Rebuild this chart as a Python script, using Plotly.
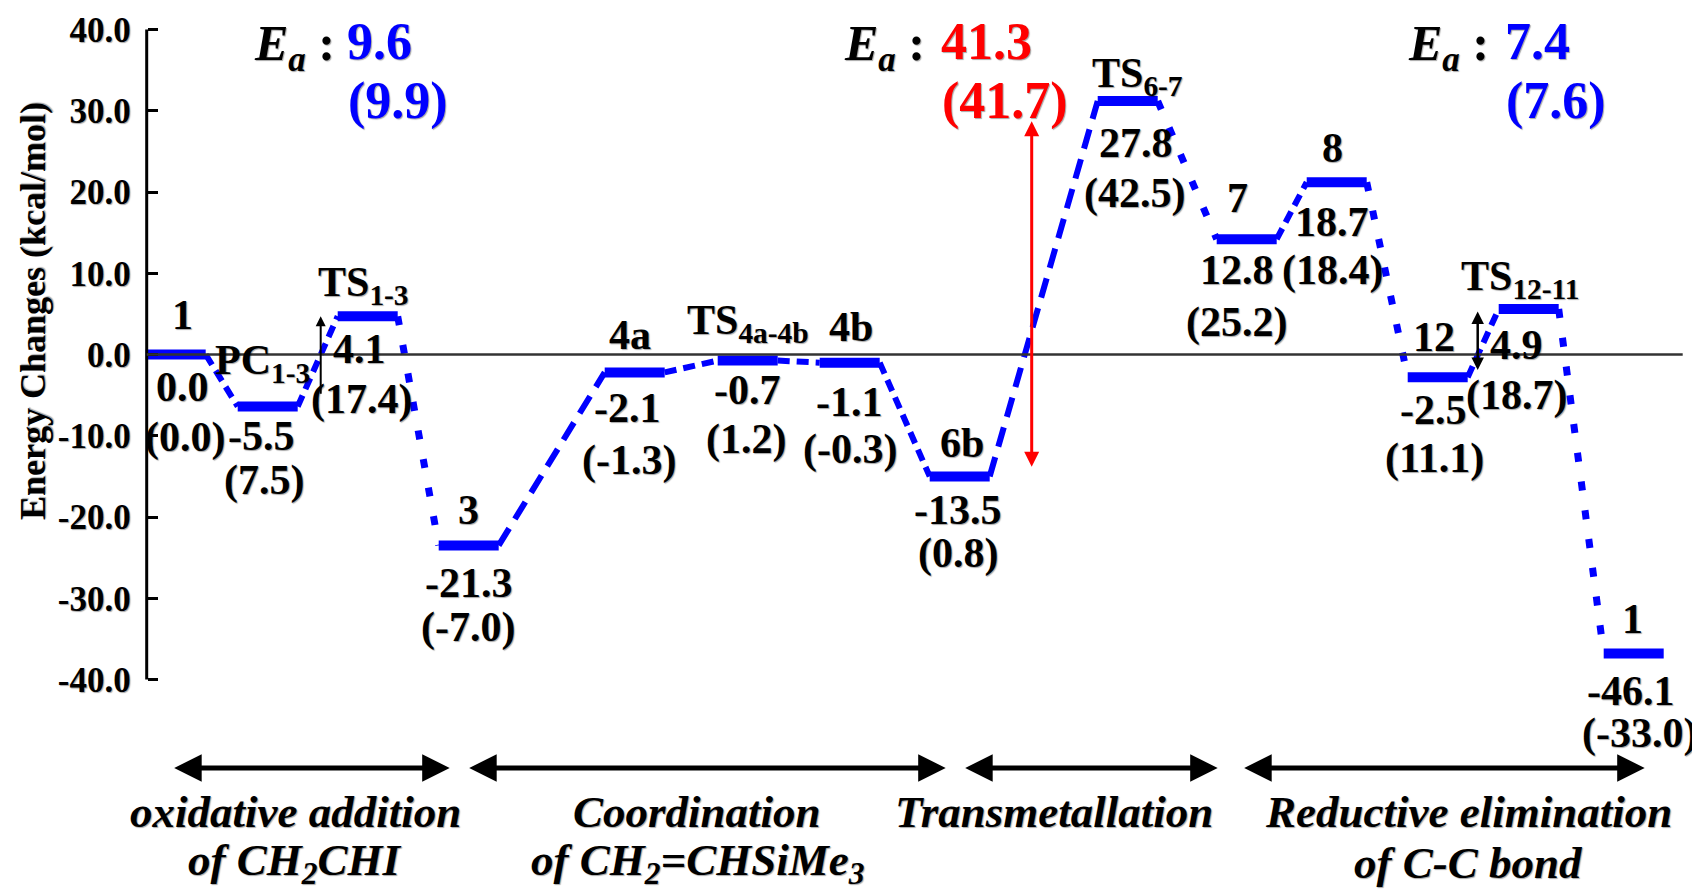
import plotly.graph_objects as go

# ---------------- data ----------------
state_names = ["1", "PC<sub>1-3</sub>", "TS<sub>1-3</sub>", "3", "4a", "TS<sub>4a-4b</sub>", "4b",
               "6b", "TS<sub>6-7</sub>", "7", "8", "12", "TS<sub>12-11</sub>", "1"]
reaction_coord = [0.29, 1.21, 2.21, 3.22, 4.88, 6.01, 7.03, 8.13, 9.81, 11.00, 11.90, 12.91, 13.82, 14.87]
drawn_level = [0.0, -6.4, 4.7, -23.5, -2.2, -0.75, -1.0, -15.0, 31.2, 14.2, 21.2, -2.8, 5.6, -36.8]
energy_text = ["0.0", "-5.5", "4.1", "-21.3", "-2.1", "-0.7", "-1.1", "-13.5", "27.8", "12.8",
               "18.7", "-2.5", "4.9", "-46.1"]
paren_text = ["(0.0)", "(7.5)", "(17.4)", "(-7.0)", "(-1.3)", "(1.2)", "(-0.3)", "(0.8)", "(42.5)",
              "(25.2)", "(18.4)", "(11.1)", "(18.7)", "(-33.0)"]
connector_kind = ["dash", "dash", "dot", "long", "dash", "dash", "dash", "long", "dot", "dash",
                  "dot", "dash", "dot"]

y_ticks = [-40, -30, -20, -10, 0, 10, 20, 30, 40]
y_tick_text = ["-40.0", "-30.0", "-20.0", "-10.0", "0.0", "10.0", "20.0", "30.0", "40.0"]

ea_main = ["9.6", "41.3", "7.4"]
ea_paren = ["(9.9)", "(41.7)", "(7.6)"]
ea_color = ["#0000FF", "#FF0000", "#0000FF"]

stage_start = [0.26, 3.21, 8.17, 10.96]
stage_end = [3.03, 7.99, 10.71, 14.98]
stage_line1 = ["oxidative addition", "Coordination", "Transmetallation", "Reductive elimination"]
stage_line2 = ["of CH<sub>2</sub>CHI", "of CH<sub>2</sub>=CHSiMe<sub>3</sub>", "", "of C-C bond"]

# ---------------- layout helpers ----------------
OFF = 8                      # page body margin of the html page
W, H = 1700 - OFF, 896 - OFF
AX_PX = 146.7 - OFF          # figure pixel x of the y-axis
PX_PER_X = 100.0
ZERO_PY = 354.5 - OFF        # figure pixel y of energy 0
PX_PER_Y = 8.125
x_range = [-AX_PX / PX_PER_X, (W - AX_PX) / PX_PER_X]
y_range = [-(H - ZERO_PY) / PX_PER_Y, ZERO_PY / PX_PER_Y]


def px(x):   # reference page pixel -> paper fraction
    return (x - OFF) / W


def py(y):
    return 1 - (y - OFF) / H


FONT = "Liberation Serif"
SHADOW = "1px 1px 1px rgba(0,0,0,0.35)"
BLUE = "#0000FF"
half_w = 0.3

fig = go.Figure()

# bars
bx, by = [], []
for c, l in zip(reaction_coord, drawn_level):
    bx += [c - half_w, c + half_w, None]
    by += [l, l, None]
fig.add_trace(go.Scatter(x=bx, y=by, mode="lines", line=dict(color=BLUE, width=10),
                         hoverinfo="skip", showlegend=False))

dash_map = {"dash": ("12px,7px", 6), "long": ("20px,11px", 6), "dot": ("9px,20px", 7)}
for i, kind in enumerate(connector_kind):
    d, w = dash_map[kind]
    fig.add_trace(go.Scatter(
        x=[reaction_coord[i] + half_w, reaction_coord[i + 1] - half_w],
        y=[drawn_level[i], drawn_level[i + 1]],
        mode="lines", line=dict(color=BLUE, width=w, dash=d),
        hoverinfo="skip", showlegend=False))

ann = []
lab_font = dict(family=FONT, size=42, color="black", weight="bold", shadow=SHADOW)

# name labels (pixel offsets from bar centre)
name_dx = [7, -5, -4, 0, -5, 0, 1, 2, 10, -9, -4, -4, -9, -1]
name_dy = [40, 44, 31, 35, 37, 38, 36, 33, 25, 41, 34, 40, 30, 35]
for i in range(len(state_names)):
    ann.append(dict(x=reaction_coord[i], y=drawn_level[i], text=state_names[i], showarrow=False,
                    xshift=name_dx[i], yshift=name_dy[i], font=lab_font,
                    xanchor="center", yanchor="middle"))

en_dx = [7, -6, -8, 0, -7, 0, 0, -2, 8, -10, -5, -4, -12, -3]
en_dy = [32, 29, 33, 38, 36, 29, 39, 34, 42, 31, 40, 33, 36, 37]
par_dx = [9, -4, -6, -1, -6, -2, 0, -2, 7, -10, -4, -3, -12, 6]
par_dy = [83, 74, 83, 82, 88, 79, 87, 77, 92, 83, 88, 81, 86, 80]
for i in range(len(state_names)):
    ann.append(dict(x=reaction_coord[i], y=drawn_level[i], text=energy_text[i], showarrow=False,
                    xshift=en_dx[i], yshift=-en_dy[i], font=lab_font,
                    xanchor="center", yanchor="middle"))
    ann.append(dict(x=reaction_coord[i], y=drawn_level[i], text=paren_text[i], showarrow=False,
                    xshift=par_dx[i], yshift=-par_dy[i], font=lab_font,
                    xanchor="center", yanchor="middle"))


# barrier arrows
def arrow(x0, y0, x1, y1, color, width, both, head=2, size=1.0):
    return dict(x=x1, y=y1, ax=x0, ay=y0, xref="x", yref="y", axref="x", ayref="y", text="",
                showarrow=True, arrowhead=head, startarrowhead=head, arrowsize=size,
                startarrowsize=size, arrowwidth=width, arrowcolor=color,
                arrowside="end+start" if both else "end")


ann.append(arrow(1.74, -5.0, 1.74, drawn_level[2], "black", 2, False))
ann.append(arrow(13.31, -2.1, 13.31, 5.3, "black", 2.5, True))
ann.append(arrow(8.85, -14.0, 8.85, 28.7, "#FF0000", 3, True))

# Ea labels
ea_label_px = [337, 927, 1491]
ea_num_px = [345, 939, 1503]
ea_font_k = dict(family=FONT, size=50, color="black", weight="bold", shadow=SHADOW)
for i in range(3):
    ann.append(dict(xref="paper", yref="paper", x=px(ea_label_px[i]), y=py(47),
                    text="<i>E</i><sub><i>a</i></sub> :", showarrow=False,
                    xanchor="right", yanchor="middle", font=ea_font_k))
    ann.append(dict(xref="paper", yref="paper", x=px(ea_num_px[i]), y=py(41),
                    text=ea_main[i], showarrow=False, xanchor="left", yanchor="middle",
                    font=dict(family=FONT, size=52, color=ea_color[i], weight="bold", shadow=SHADOW)))
    ann.append(dict(xref="paper", yref="paper", x=px(ea_num_px[i] + 1), y=py(101),
                    text=ea_paren[i], showarrow=False, xanchor="left", yanchor="middle",
                    font=dict(family=FONT, size=52, color=ea_color[i], weight="bold", shadow=SHADOW)))

# stage arrows and text
stage_y = (354.5 - 768) / PX_PER_Y
st_font = dict(family=FONT, size=45, color="black", weight="bold", style="italic", shadow=SHADOW)
for i in range(4):
    ann.append(arrow(stage_start[i], stage_y, stage_end[i], stage_y, "black", 5, True, head=2, size=1.1))
st_center_px = [295, 697, 1054, 1468]
for i in range(4):
    ann.append(dict(xref="paper", yref="paper", x=px(st_center_px[i]), y=py(812),
                    text=stage_line1[i], showarrow=False, font=st_font,
                    xanchor="center", yanchor="middle"))
    if stage_line2[i]:
        ann.append(dict(xref="paper", yref="paper", x=px(st_center_px[i]), y=py(863),
                        text=stage_line2[i], showarrow=False, font=st_font,
                        xanchor="center", yanchor="middle"))

# axis title
ann.append(dict(xref="paper", yref="paper", x=px(33), y=py(311),
                text="Energy Changes (kcal/mol)", showarrow=False, textangle=-90,
                xanchor="center", yanchor="middle",
                font=dict(family=FONT, size=36, color="black", weight="bold", shadow=SHADOW)))

shapes = [
    dict(type="line", xref="x", yref="y", x0=0, x1=0, y0=-40, y1=40,
         line=dict(color="black", width=3)),
    dict(type="line", xref="x", yref="y", x0=0, x1=15.36, y0=0, y1=0,
         line=dict(color="#333333", width=2.5)),
]

fig.update_layout(
    width=W, height=H, margin=dict(l=0, r=0, t=0, b=0),
    paper_bgcolor="white", plot_bgcolor="white", showlegend=False,
    xaxis=dict(range=x_range, visible=False),
    yaxis=dict(range=y_range, anchor="free", position=AX_PX / W, showgrid=False, zeroline=False,
               showline=False, ticks="inside", ticklen=10, tickwidth=3, tickcolor="black",
               tickvals=y_ticks, ticktext=y_tick_text, ticklabelstandoff=16,
               tickfont=dict(family=FONT, size=35, color="black", weight="bold", shadow=SHADOW)),
    annotations=ann, shapes=shapes,
)

fig.write_html("out.html")
